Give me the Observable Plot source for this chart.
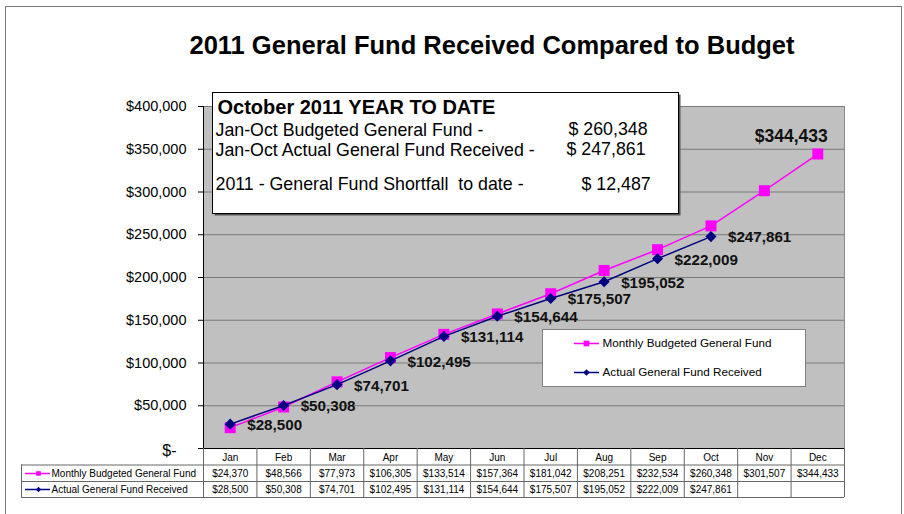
<!DOCTYPE html>
<html>
<head>
<meta charset="utf-8">
<script src="https://cdn.jsdelivr.net/npm/d3@7"></script>
<script src="https://cdn.jsdelivr.net/npm/@observablehq/plot@0.6"></script>
<style>
  html, body { margin: 0; padding: 0; background: white; }
  #chart { width: 904px; height: 514px; overflow: hidden; }
</style>
</head>
<body>
<div id="chart"></div>
<script>
// ---- data ----
const months = ["Jan", "Feb", "Mar", "Apr", "May", "Jun", "Jul", "Aug", "Sep", "Oct", "Nov", "Dec"];
const budgeted = [24370, 48566, 77973, 106305, 133514, 157364, 181042, 208251, 232534, 260348, 301507, 344433];
const actual = [28500, 50308, 74701, 102495, 131114, 154644, 175507, 195052, 222009, 247861];
const yTicks = [0, 50000, 100000, 150000, 200000, 250000, 300000, 350000, 400000];
const seriesNames = ["Monthly Budgeted General Fund", "Actual General Fund Received"];
const titleText = "2011 General Fund Received Compared to Budget";
const boxTitle = "October 2011 YEAR TO DATE";
const boxLabels = ["Jan-Oct Budgeted General Fund -", "Jan-Oct Actual General Fund Received -", "2011 - General Fund Shortfall  to date -"];
const boxValues = ["$ 260,348", "$ 247,861", "$ 12,487"];

const fmt = d3.format("$,");
const MAG = "#ff00ff", NAVY = "#000080";
const colEdges = months.map((m, i) => i - 0.5).concat([months.length - 0.5]);
const idx = (d, i) => i;

// frame geometry (margins)
const W = 904, H = 514, ML = 203, MR = 60, MT = 106, MB = 66;
const FW = W - ML - MR; // 641
const X0 = ML, Y0 = MT, XR = W - MR, YB = H - MB;

const t = (s, x, y, opts = {}) => Plot.text([s], {
  text: d => d, frameAnchor: "top-left", dx: x - X0, dy: y - Y0,
  textAnchor: "start", lineAnchor: "middle", fill: "black", ...opts
});

const plot = Plot.plot({
  width: W, height: H,
  marginLeft: ML, marginRight: MR, marginTop: MT, marginBottom: MB,
  x: {type: "linear", domain: [-0.5, 11.5], axis: null},
  y: {domain: [0, 400000], axis: null},
  style: {fontFamily: "'Liberation Sans', Arial, sans-serif", background: "white", color: "black", overflow: "visible"},
  marks: [
    // outer border
    Plot.frame({stroke: "#777", fill: "none", insetLeft: -(X0 - 5), insetTop: -(Y0 - 6), insetRight: -(901 - XR), insetBottom: -80}),
    // plot area
    Plot.frame({fill: "#c0c0c0", stroke: "#8a8a8a"}),
    Plot.ruleY(yTicks.filter(d => d > 0), {stroke: "#7a7a7a", strokeWidth: 1}),
    // axes lines
    Plot.ruleX([-0.5], {stroke: "black"}),
    Plot.ruleY(yTicks, {stroke: "black", insetLeft: -5, insetRight: FW}),
    Plot.ruleY([0], {stroke: "black"}),
    // y labels
    Plot.text(yTicks.filter(d => d > 0), {y: d => d, text: d => fmt(d), frameAnchor: "left", lineAnchor: "middle", dx: -17, textAnchor: "end", fontSize: 14.5, fill: "black"}),
    Plot.text(yTicks.filter(d => d === 0), {y: d => d, text: () => "$-", frameAnchor: "left", lineAnchor: "middle", dx: -27, dy: 2, textAnchor: "end", fontSize: 16, fill: "black"}),

    // text box
    Plot.frame({fill: "#555", stroke: "none", insetLeft: 212 - X0 + 2, insetTop: 92 - Y0 + 2, insetRight: XR - 678 - 2, insetBottom: YB - 213 - 2}),
    Plot.frame({fill: "white", stroke: "black", insetLeft: 212 - X0, insetTop: 92 - Y0, insetRight: XR - 678, insetBottom: YB - 213}),
    t(boxTitle, 217, 107, {fontWeight: "bold", fontSize: 20}),
    t(boxLabels[0], 215, 130, {fontSize: 17.8}),
    t(boxLabels[1], 215, 150, {fontSize: 17.8}),
    t(boxLabels[2], 215, 184, {fontSize: 17.8, style: "white-space: pre"}),
    t(boxValues[0], 568, 129, {fontSize: 17.8}),
    t(boxValues[1], 566, 149, {fontSize: 17.8}),
    t(boxValues[2], 581, 184, {fontSize: 17.8}),

    // legend
    Plot.frame({fill: "white", stroke: "#808080", insetLeft: 542 - X0, insetTop: 329 - Y0, insetRight: XR - 805, insetBottom: YB - 386}),
    Plot.ruleY([0], {stroke: MAG, strokeWidth: 1.5, dy: 343 - YB, insetLeft: 574 - X0, insetRight: XR - 599}),
    Plot.dot([0], {frameAnchor: "top-left", dx: 586 - X0, dy: 343 - Y0, symbol: "square", r: 3.2, fill: MAG}),
    Plot.ruleY([0], {stroke: NAVY, strokeWidth: 1.5, dy: 372 - YB, insetLeft: 574 - X0, insetRight: XR - 599}),
    Plot.dot([0], {frameAnchor: "top-left", dx: 586 - X0, dy: 372 - Y0, symbol: "diamond2", r: 3, fill: NAVY}),
    t(seriesNames[0], 602, 343, {fontSize: 11.7}),
    t(seriesNames[1], 602, 372, {fontSize: 11.7}),

    // series
    Plot.line(budgeted, {x: idx, y: d => d, stroke: MAG, strokeWidth: 1.5}),
    Plot.dot(budgeted, {x: idx, y: d => d, symbol: "square", r: 6.2, fill: MAG}),
    Plot.line(actual, {x: idx, y: d => d, stroke: NAVY, strokeWidth: 1.5}),
    Plot.dot(actual, {x: idx, y: d => d, symbol: "diamond2", r: 5, fill: NAVY}),
    Plot.text(actual, {x: idx, y: d => d, text: d => fmt(d), textAnchor: "start", lineAnchor: "middle", dx: 17, dy: 1, fontSize: 15.2, fontWeight: "bold", fill: "#111"}),
    Plot.text(budgeted, {x: idx, y: d => d, filter: (d, i) => i === budgeted.length - 1, text: d => fmt(d), textAnchor: "end", lineAnchor: "middle", dx: 10, dy: -18, fontSize: 17.5, fontWeight: "bold", fill: "#111"}),

    // title
    t(titleText, 491.5, 45, {textAnchor: "middle", fontWeight: "bold", fontSize: 25.5}),

    // data table
    Plot.ruleY([0], {stroke: "#666", dy: 16.5, insetLeft: -(X0 - 21)}),
    Plot.ruleY([0], {stroke: "#666", dy: 33, insetLeft: -(X0 - 21)}),
    Plot.ruleY([0], {stroke: "#666", dy: 49, insetLeft: -(X0 - 21)}),
    Plot.ruleX(colEdges, {stroke: "#666", insetTop: YB - Y0, insetBottom: -49}),
    Plot.ruleX([-0.5], {stroke: "#666", dx: -(X0 - 21), insetTop: YB - Y0 + 16.5, insetBottom: -49}),
    Plot.text(months, {x: idx, text: d => d, frameAnchor: "bottom", lineAnchor: "middle", dy: 9, fontSize: 10, fill: "black"}),
    Plot.text(budgeted, {x: idx, text: d => fmt(d), frameAnchor: "bottom", lineAnchor: "middle", dy: 25, fontSize: 10, fill: "black"}),
    Plot.text(actual, {x: idx, text: d => fmt(d), frameAnchor: "bottom", lineAnchor: "middle", dy: 41, fontSize: 10, fill: "black"}),
    Plot.ruleY([0], {stroke: MAG, strokeWidth: 1.5, dy: 25, insetLeft: -(X0 - 25), insetRight: FW + (X0 - 50)}),
    Plot.dot([0], {frameAnchor: "bottom-left", dx: 38 - X0, dy: 25, symbol: "square", r: 2.6, fill: MAG}),
    Plot.ruleY([0], {stroke: NAVY, strokeWidth: 1.5, dy: 41, insetLeft: -(X0 - 25), insetRight: FW + (X0 - 50)}),
    Plot.dot([0], {frameAnchor: "bottom-left", dx: 38 - X0, dy: 41, symbol: "diamond2", r: 2.4, fill: NAVY}),
    Plot.text(seriesNames, {frameAnchor: "bottom-left", lineAnchor: "middle", text: d => d, dx: 51 - X0, dy: 25, textAnchor: "start", fontSize: 10, fill: "black", filter: (d, i) => i === 0}),
    Plot.text(seriesNames, {frameAnchor: "bottom-left", lineAnchor: "middle", text: d => d, dx: 51 - X0, dy: 41, textAnchor: "start", fontSize: 10, fill: "black", filter: (d, i) => i === 1})
  ]
});
document.getElementById("chart").appendChild(plot);
</script>
</body>
</html>
